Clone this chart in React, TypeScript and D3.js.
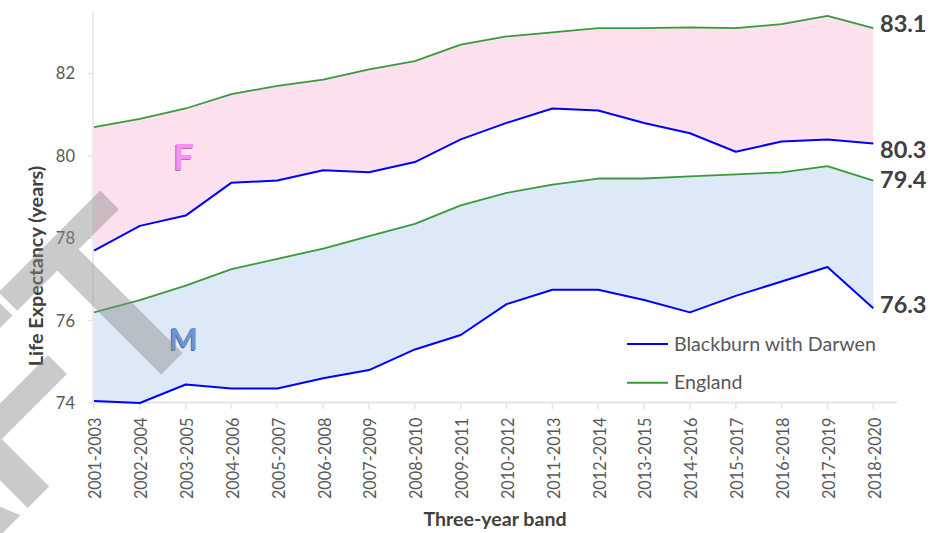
import React, { useEffect, useRef } from "react";
import * as d3 from "d3";

const bands = [
  "2001-2003", "2002-2004", "2003-2005", "2004-2006", "2005-2007", "2006-2008",
  "2007-2009", "2008-2010", "2009-2011", "2010-2012", "2011-2013", "2012-2014",
  "2013-2015", "2014-2016", "2015-2017", "2016-2018", "2017-2019", "2018-2020",
];

const englandFemale = [80.7, 80.9, 81.15, 81.5, 81.7, 81.85, 82.1, 82.3, 82.7, 82.9, 83.0, 83.1, 83.1, 83.12, 83.1, 83.2, 83.4, 83.1];
const blackburnFemale = [77.7, 78.3, 78.55, 79.35, 79.4, 79.65, 79.6, 79.85, 80.4, 80.8, 81.15, 81.1, 80.8, 80.55, 80.1, 80.35, 80.4, 80.3];
const englandMale = [76.2, 76.5, 76.85, 77.25, 77.5, 77.75, 78.05, 78.35, 78.8, 79.1, 79.3, 79.45, 79.45, 79.5, 79.55, 79.6, 79.75, 79.4];
const blackburnMale = [74.05, 74.0, 74.45, 74.35, 74.35, 74.6, 74.8, 75.3, 75.65, 76.4, 76.75, 76.75, 76.5, 76.2, 76.6, 76.95, 77.3, 76.3];

const yTicks = [74, 76, 78, 80, 82];

const theme = {
  pink: "#fde0ee",
  lightBlue: "#dde9f6",
  blue: "#0000ff",
  green: "#3a9a3a",
  axis: "#e4e4e4",
  tickText: "#595959",
  titleText: "#404040",
  font: "Lato, 'Open Sans', sans-serif",
};

const App = () => {
  const svgRef = useRef(null);

  useEffect(() => {
    const width = 944;
    const height = 533;
    const svg = d3.select(svgRef.current);
    svg.selectAll("*").remove();
    svg.attr("width", width).attr("height", height);

    svg.append("rect").attr("width", width).attr("height", height).attr("fill", "#ffffff");

    const x = d3.scalePoint().domain(bands).range([94, 873.3]);
    const y = d3.scaleLinear().domain([74, 83.5]).range([403, 11.7]);
    const plotLeft = 93;
    const plotRight = 897;

    const idx = bands.map((_, i) => i);

    // shaded gaps between England and Blackburn
    const band = (top, bottom) =>
      d3.area()
        .x((i) => x(bands[i]))
        .y0((i) => y(bottom[i]))
        .y1((i) => y(top[i]))(idx);

    svg.append("path").attr("d", band(englandFemale, blackburnFemale)).attr("fill", theme.pink);
    svg.append("path").attr("d", band(englandMale, blackburnMale)).attr("fill", theme.lightBlue);

    // axes
    svg.append("line")
      .attr("x1", plotLeft).attr("x2", plotRight)
      .attr("y1", y(74) - 0.5).attr("y2", y(74) - 0.5)
      .attr("stroke", theme.axis).attr("stroke-width", 2);
    svg.append("line")
      .attr("x1", plotLeft).attr("x2", plotLeft)
      .attr("y1", y(83.5)).attr("y2", y(74))
      .attr("stroke", theme.axis).attr("stroke-width", 1.5);

    svg.append("g").selectAll("line").data(bands).enter().append("line")
      .attr("x1", (d) => x(d)).attr("x2", (d) => x(d))
      .attr("y1", y(74)).attr("y2", y(74) + 6)
      .attr("stroke", theme.axis).attr("stroke-width", 1.5);

    svg.append("g").selectAll("line").data(yTicks).enter().append("line")
      .attr("x1", plotLeft - 5).attr("x2", plotLeft)
      .attr("y1", (d) => y(d)).attr("y2", (d) => y(d))
      .attr("stroke", theme.axis).attr("stroke-width", 1.5);

    svg.append("g").selectAll("text").data(yTicks).enter().append("text")
      .attr("x", 75).attr("y", (d) => y(d)).attr("dy", "0.36em")
      .attr("text-anchor", "end")
      .attr("fill", theme.tickText)
      .style("font-family", theme.font).style("font-size", "16.5px")
      .text((d) => d);

    svg.append("g").selectAll("text").data(bands).enter().append("text")
      .attr("transform", (d) => `translate(${x(d) + 1.5},417.5) rotate(-90)`)
      .attr("dy", "0.36em")
      .attr("text-anchor", "end")
      .attr("fill", theme.tickText)
      .style("font-family", theme.font).style("font-size", "16.3px")
      .text((d) => d);

    // lines
    const line = (vals) => d3.line().x((i) => x(bands[i])).y((i) => y(vals[i]))(idx);
    [
      [englandFemale, theme.green, 1.8],
      [englandMale, theme.green, 1.8],
      [blackburnFemale, theme.blue, 2],
      [blackburnMale, theme.blue, 2],
    ].forEach(([vals, color, w]) => {
      svg.append("path").attr("d", line(vals)).attr("fill", "none")
        .attr("stroke", color).attr("stroke-width", w).attr("stroke-linejoin", "round");
    });

    // end-of-line values
    const last = bands.length - 1;
    [
      [englandFemale[last], 3.5],
      [blackburnFemale[last], 14],
      [englandMale[last], 7],
      [blackburnMale[last], 4.5],
    ].forEach(([v, dy]) => {
      svg.append("text")
        .attr("x", 880).attr("y", y(v) + dy)
        .attr("fill", theme.titleText)
        .style("font-family", theme.font).style("font-size", "23.5px").style("font-weight", 700)
        .text(v.toFixed(1));
    });

    // F / M labels
    const sexLabel = (txt, v, size, fill, shade) => {
      const g = svg.append("g").attr("transform", `translate(${x(bands[2]) - 2},${y(v)})`);
      g.append("text").attr("x", -1).attr("y", 1.2).attr("text-anchor", "middle")
        .attr("fill", shade)
        .style("font-family", theme.font).style("font-size", size).style("font-weight", 700)
        .text(txt);
      g.append("text").attr("text-anchor", "middle")
        .attr("fill", fill)
        .style("font-family", theme.font).style("font-size", size).style("font-weight", 700)
        .text(txt);
    };
    sexLabel("F", 79.66, "37px", "#f590ec", "#b96aa8");
    sexLabel("M", 75.28, "30px", "#6f93d4", "#4d6a9e");

    // legend
    const legend = svg.append("g");
    [["Blackburn with Darwen", theme.blue, 344], ["England", theme.green, 382.7]].forEach(([name, color, ly]) => {
      legend.append("line").attr("x1", 627).attr("x2", 668).attr("y1", ly).attr("y2", ly)
        .attr("stroke", color).attr("stroke-width", 2);
      legend.append("text").attr("x", 674).attr("y", ly + 6.6)
        .attr("fill", theme.tickText)
        .style("font-family", theme.font).style("font-size", "19.6px")
        .text(name);
    });

    // axis titles
    svg.append("text")
      .attr("transform", "translate(42.5,266) rotate(-90)")
      .attr("text-anchor", "middle")
      .attr("fill", theme.titleText)
      .style("font-family", theme.font).style("font-size", "19.8px").style("font-weight", 700)
      .text("Life Expectancy (years)");

    svg.append("text")
      .attr("x", 495).attr("y", 525.7)
      .attr("text-anchor", "middle")
      .attr("fill", theme.titleText)
      .style("font-family", theme.font).style("font-size", "19.6px").style("font-weight", 700)
      .text("Three-year band");

    // watermark
    svg.append("text")
      .attr("transform", "translate(221,309) rotate(-45)")
      .attr("text-anchor", "end")
      .attr("fill", "#8c8c8c")
      .attr("stroke", "#8c8c8c")
      .attr("stroke-width", 8)
      .attr("opacity", 0.45)
      .style("font-family", "'Liberation Sans', Arial, sans-serif")
      .style("font-size", "240px")
      .text("DRAFT");
  }, []);

  return <svg ref={svgRef} style={{ position: "absolute", left: 0, top: 0, display: "block" }}></svg>;
};

export default App;
